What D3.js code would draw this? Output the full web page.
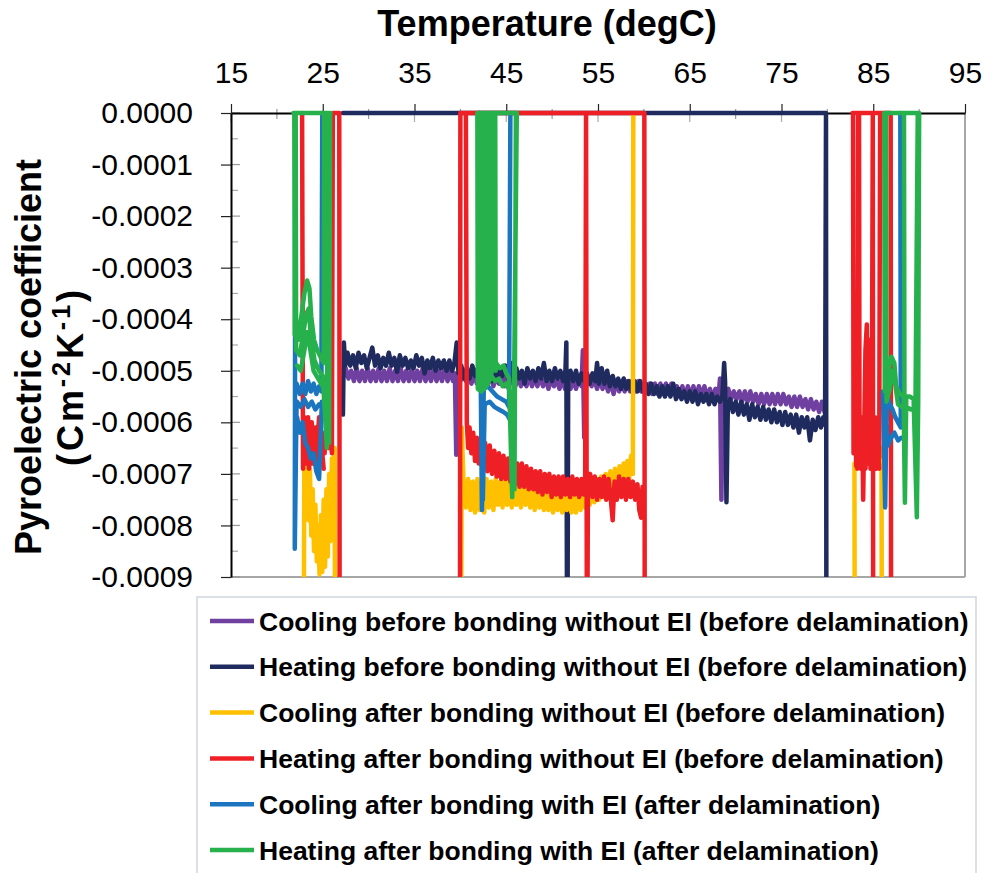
<!DOCTYPE html>
<html><head><meta charset="utf-8">
<script src="https://cdn.jsdelivr.net/npm/d3@7"></script>
<style>
body{margin:0;background:#fff;}
svg{display:block;font-family:"Liberation Sans",Arial,Helvetica,sans-serif;}
</style>
</head><body>
<svg id="chart" width="985" height="873"></svg>
<script>
// ---------- DATA ----------
// values are in units of 1e-4 C m^-2 K^-1 ; null = break in the trace
const UNIT = 1e-4;
const xTickValues = [15, 25, 35, 45, 55, 65, 75, 85, 95];
const yTickValues = [0, -0.0001, -0.0002, -0.0003, -0.0004, -0.0005, -0.0006, -0.0007, -0.0008, -0.0009];
const seriesNames = [
  "Cooling before bonding without EI (before delamination)",
  "Heating before bonding without EI (before delamination)",
  "Cooling after bonding without EI (before delamination)",
  "Heating after bonding without EI (before delamination)",
  "Cooling after bonding with EI (after delamination)",
  "Heating after bonding with EI (after delamination)"
];
const seriesColors = ["#7040a0", "#1f2a5e", "#ffc000", "#ee2026", "#1b75bf", "#26b14c"];

// purple
const coolBefore = [
  [79.7,-5.8],[79.4,-5.6],[79.1,-5.8],[78.8,-5.6],[78.5,-5.75],[78.2,-5.55],[77.9,-5.75],[77.6,-5.55],
  [77.3,-5.7],[77.0,-5.5],[76.7,-5.7],[76.4,-5.5],[76.1,-5.7],[75.8,-5.5],[75.5,-5.65],[75.2,-5.45],
  [74.9,-5.65],[74.6,-5.45],[74.3,-5.65],[74.0,-5.45],[73.7,-5.65],[73.4,-5.45],[73.1,-5.65],[72.8,-5.45],
  [72.5,-5.65],[72.2,-5.45],[71.9,-5.6],[71.6,-5.4],[71.3,-5.6],[71.0,-5.4],[70.7,-5.6],[70.4,-5.4],
  [70.1,-5.55],[69.8,-5.4],[69.5,-5.55],[69.2,-5.35],[68.9,-5.55],[68.6,-5.4],[68.45,-7.5],[68.3,-5.15],
  [68.1,-5.55],[67.8,-5.35],[67.5,-5.55],[67.2,-5.35],[66.9,-5.55],[66.6,-5.3],[66.3,-5.5],[66.0,-5.3],
  [65.7,-5.5],[65.4,-5.3],[65.1,-5.5],[64.8,-5.3],[64.5,-5.5],[64.2,-5.3],[63.9,-5.5],[63.6,-5.3],
  [63.3,-5.45],[63.0,-5.25],[62.7,-5.45],[62.4,-5.25],[62.1,-5.45],[61.8,-5.25],[61.5,-5.45],[61.2,-5.25],
  [60.9,-5.45],[60.6,-5.25],[60.3,-5.4],[60.0,-5.25],[59.7,-5.4],[59.4,-5.2],[59.1,-5.4],[58.8,-5.2],
  [58.5,-5.4],[58.2,-5.2],[57.9,-5.4],[57.6,-5.2],[57.3,-5.4],[57.0,-5.2],[56.7,-5.45],[56.4,-5.2],
  [56.1,-5.4],[55.8,-5.2],[55.5,-5.35],[55.2,-5.15],[54.9,-5.35],[54.6,-5.15],[54.3,-5.3],[54.0,-5.15],
  [53.7,-5.3],[53.5,-6.3],[53.35,-4.6],[53.2,-5.3],[52.9,-5.15],[52.6,-5.35],[52.3,-5.15],[52.0,-5.35],
  [51.7,-5.15],[51.4,-5.35],[51.1,-5.15],[50.8,-5.35],[50.5,-5.15],[50.2,-5.3],[49.9,-5.15],[49.6,-5.35],
  [49.3,-5.15],[49.0,-5.3],[48.7,-5.1],[48.4,-5.3],[48.1,-5.15],[47.8,-5.3],[47.5,-5.1],[47.2,-5.3],
  [46.9,-5.1],[46.6,-5.3],[46.3,-5.1],[46.0,-5.3],[45.7,-5.1],[45.4,-5.25],[45.1,-5.1],[44.8,-5.3],
  [44.5,-5.1],[44.2,-5.25],[43.9,-5.1],[43.6,-5.3],[43.3,-5.1],[43.0,-5.25],[42.7,-5.05],[42.4,-5.25],
  [42.1,-5.05],[41.8,-5.25],[41.5,-5.05],[41.2,-5.25],[40.9,-5.05],[40.6,-5.2],[40.3,-5.05],[40.0,-5.2],
  [39.75,-5.05],[39.55,-6.63],[39.4,-5.05],[39.2,-5.2],[38.9,-5.0],[38.6,-5.2],[38.3,-4.95],[38.0,-5.2],
  [37.7,-5.0],[37.4,-5.2],[37.1,-4.95],[36.8,-5.2],[36.5,-5.0],[36.2,-5.2],[35.9,-4.95],[35.6,-5.2],
  [35.3,-5.0],[35.0,-5.2],[34.7,-4.95],[34.4,-5.2],[34.1,-5.0],[33.8,-5.2],[33.5,-4.95],[33.2,-5.2],
  [32.9,-5.0],[32.6,-5.2],[32.3,-4.95],[32.0,-5.2],[31.7,-5.0],[31.4,-5.2],[31.1,-4.95],[30.8,-5.2],
  [30.5,-5.0],[30.2,-5.2],[29.9,-4.95],[29.6,-5.2],[29.3,-5.0],[29.0,-5.2],[28.7,-4.95],[28.4,-5.2],
  [28.1,-5.0],[27.8,-5.15],[27.5,-4.95],[27.3,-5.1]
];

// navy
const heatBefore = [
  [27.2,0],[79.85,0], null,
  [27.2,-5.85],[27.3,-4.45],[27.45,-4.9],[27.7,-4.65],[28.0,-4.9],[28.3,-4.7],[28.6,-4.95],[28.9,-4.65],
  [29.2,-4.85],[29.5,-4.7],[29.8,-4.95],[30.1,-4.75],[30.4,-4.55],[30.7,-4.9],[31.0,-4.7],[31.3,-4.95],
  [31.6,-4.75],[31.9,-4.9],[32.2,-4.65],[32.5,-4.9],[32.8,-4.75],[33.1,-5.02],[33.4,-4.7],[33.7,-4.9],
  [34.0,-4.75],[34.3,-4.95],[34.6,-4.8],[34.9,-4.95],[35.2,-4.7],[35.5,-4.9],[35.8,-4.75],[36.1,-5.05],
  [36.4,-4.8],[36.7,-4.95],[37.0,-4.75],[37.3,-5.0],[37.6,-4.8],[37.9,-4.95],[38.2,-4.8],[38.5,-5.0],
  [38.8,-4.8],[39.1,-5.0],[39.35,-4.85],[39.6,-4.45],[39.8,-5.05],[40.1,-4.9],[40.4,-5.15],[40.7,-4.95],
  [41.0,-5.15],[41.3,-4.9],[41.6,-5.1],[41.9,-4.95],[42.2,-5.15],[42.5,-4.9],[42.8,-5.1],[43.1,-4.95],
  [43.4,-5.2],[43.7,-4.9],[44.0,-5.15],[44.3,-4.95],[44.6,-5.1],[44.9,-4.9],[45.2,-5.15],[45.5,-4.85],
  [45.8,-5.2],[46.1,-4.95],[46.4,-5.15],[46.7,-5.0],[47.0,-5.25],[47.3,-4.95],[47.6,-5.15],[47.9,-5.0],
  [48.2,-5.2],[48.5,-4.95],[48.8,-5.15],[49.1,-4.85],[49.4,-5.2],[49.7,-5.0],[50.0,-5.2],[50.3,-4.95],
  [50.6,-5.15],[50.9,-5.0],[51.2,-5.2],[51.45,-5.0],[51.55,-4.45],[51.65,-12],[51.75,-5.15],[52.0,-5.0],
  [52.3,-5.2],[52.6,-5.0],[52.9,-5.25],[53.2,-5.05],[53.5,-5.2],[53.8,-5.05],[54.1,-5.25],[54.4,-5.05],
  [54.7,-5.2],[54.9,-4.85],[55.1,-5.25],[55.4,-4.95],[55.7,-5.25],[56.0,-5.0],[56.3,-5.3],[56.6,-5.1],
  [56.9,-5.3],[57.2,-5.15],[57.5,-5.35],[57.8,-5.15],[58.1,-5.35],[58.4,-5.2],[58.7,-5.4],[59.0,-5.2],
  [59.3,-5.4],[59.6,-5.2],[59.9,-5.4],[60.2,-5.25],[60.5,-5.45],[60.8,-5.25],[61.1,-5.45],[61.4,-5.3],
  [61.7,-5.5],[62.0,-5.3],[62.3,-5.5],[62.6,-5.3],[62.9,-5.5],[63.2,-5.25],[63.5,-5.55],[63.8,-5.35],
  [64.1,-5.55],[64.4,-5.4],[64.7,-5.6],[65.0,-5.4],[65.3,-5.6],[65.6,-5.4],[65.9,-5.65],[66.2,-5.45],
  [66.5,-5.6],[66.8,-5.45],[67.1,-5.65],[67.4,-5.45],[67.7,-5.65],[68.0,-5.5],[68.3,-5.6],[68.55,-5.5],
  [68.75,-4.85],[68.85,-5.2],[69.0,-7.55],[69.15,-5.7],[69.4,-5.55],[69.7,-5.8],[70.0,-5.6],[70.3,-5.85],
  [70.6,-5.6],[70.9,-5.85],[71.2,-5.65],[71.5,-5.95],[71.8,-5.65],[72.1,-5.9],[72.4,-5.7],[72.7,-5.95],
  [73.0,-5.7],[73.3,-5.95],[73.6,-5.75],[73.9,-6.0],[74.2,-5.75],[74.5,-6.0],[74.8,-5.8],[75.1,-6.05],
  [75.4,-5.8],[75.7,-6.05],[76.0,-5.85],[76.3,-6.1],[76.6,-5.85],[76.9,-6.2],[77.2,-5.9],[77.5,-6.1],
  [77.8,-5.9],[78.1,-6.35],[78.4,-5.95],[78.7,-6.15],[79.0,-5.9],[79.3,-6.1],[79.55,-5.9],[79.75,-6.05],
  [79.85,0],[79.9,-12]
];

// yellow
const coolAfterNoEI = [
  [85.9,-6.5],[85.95,-12], null,
  [82.95,-6.8],[83.0,-12], null,
  [58.85,0],[58.8,-7.0],[58.6,-6.65],[58.4,-7.1],[58.2,-6.75],[58.0,-7.2],[57.8,-6.8],[57.6,-7.25],
  [57.35,-6.85],[57.1,-7.3],[56.85,-6.9],[56.6,-7.35],[56.35,-6.95],[56.1,-7.4],[55.85,-7.0],[55.6,-7.45],
  [55.35,-7.05],[55.1,-7.5],[54.85,-7.1],[54.6,-7.55],[54.35,-7.15],[54.1,-7.6],[53.85,-7.2],[53.6,-7.65],
  [53.35,-7.25],[53.1,-7.7],[52.85,-7.25],[52.6,-7.75],[52.35,-7.3],[52.1,-7.75],[51.85,-7.3],[51.6,-7.7],
  [51.35,-7.3],[51.1,-7.75],[50.85,-7.3],[50.6,-7.7],[50.35,-7.25],[50.1,-7.75],[49.85,-7.3],[49.6,-7.7],
  [49.35,-7.2],[49.1,-7.7],[48.85,-7.25],[48.6,-7.65],[48.35,-7.2],[48.1,-7.7],[47.85,-7.2],[47.6,-7.65],
  [47.35,-7.15],[47.1,-7.6],[46.85,-7.15],[46.6,-7.65],[46.35,-7.1],[46.1,-7.6],[45.85,-7.15],[45.6,-7.65],
  [45.35,-7.1],[45.1,-7.6],[44.85,-7.1],[44.6,-7.65],[44.35,-7.15],[44.1,-7.6],[43.85,-7.1],[43.6,-7.7],
  [43.35,-7.15],[43.1,-7.65],[42.85,-7.1],[42.6,-7.75],[42.35,-7.15],[42.1,-7.7],[41.85,-7.1],[41.6,-7.75],
  [41.35,-7.15],[41.1,-7.7],[40.85,-7.1],[40.6,-7.65],[40.35,-7.2],[40.15,-6.1],[40.05,-12], null,
  [26.35,-12],[26.3,-6.5],[26.15,-7.8],[26.0,-6.7],[25.85,-8.3],[25.7,-7.0],[25.55,-8.6],[25.4,-7.3],
  [25.25,-8.8],[25.1,-7.5],[24.95,-8.9],[24.8,-7.8],[24.65,-8.95],[24.5,-8.0],[24.35,-8.7],[24.2,-7.6],
  [24.05,-8.5],[23.9,-7.3],[23.75,-8.2],[23.6,-6.9],[23.45,-7.9],[23.3,-6.6],[23.15,-7.4],[23.0,-6.3],
  [22.9,-12]
];

// red
const heatAfterNoEI = [
  [22.75,0],[22.85,-6.9],[23.0,-5.9],[23.2,-6.4],[23.4,-5.9],[23.6,-6.5],[23.8,-6.0],[24.0,-6.6],
  [24.2,-6.1],[24.4,-6.5],[24.6,-5.9],[24.8,-6.4],[25.0,-6.2],[25.2,-6.6],[25.4,-6.1],[25.6,-6.5],
  [25.8,-6.2],[26.0,-6.6],[26.1,0],[26.8,0],[26.85,-12], null,
  [22.95,-6.2],[23.1,-6.8],[23.3,-6.3],[23.5,-6.9],[23.7,-6.4],[23.9,-6.8],[24.1,-6.3],[24.3,-6.9],
  [24.5,-6.4],[24.7,-6.8],[24.9,-6.5],[25.1,-6.9], null,
  [39.95,-12],[40.0,0],[60.05,0],[60.1,-12], null,
  [40.6,0],[40.7,-6.0],[40.85,-6.5],[41.0,-6.1],[41.2,-6.6],[41.4,-6.2],[41.6,-6.75],[41.8,-6.3],
  [42.0,-6.8],[42.2,-6.35],[42.45,-6.9],[42.7,-6.4],[42.95,-6.95],[43.2,-6.45],[43.45,-7.0],[43.7,-6.55],
  [43.95,-7.05],[44.2,-6.6],[44.45,-7.1],[44.7,-6.65],[44.95,-7.1],[45.2,-6.7],[45.45,-7.15],[45.7,-6.75],
  [45.95,-7.2],[46.2,-6.8],[46.45,-7.25],[46.7,-6.8],[46.95,-7.25],[47.2,-6.85],[47.45,-7.3],[47.7,-6.9],
  [47.95,-7.3],[48.2,-6.95],[48.45,-7.35],[48.7,-6.95],[48.95,-7.4],[49.2,-7.0],[49.45,-7.35],[49.7,-7.0],
  [49.95,-7.45],[50.2,-7.05],[50.45,-7.4],[50.7,-7.05],[50.95,-7.45],[51.2,-7.05],[51.45,-7.4],[51.7,-7.1],
  [51.95,-7.45],[52.2,-7.05],[52.45,-7.4],[52.7,-7.1],[52.95,-7.45],[53.2,-7.1],[53.45,-7.4],[53.6,-7.2],
  [53.7,0],[53.8,-12],[53.9,-7.3],[54.15,-7.0],[54.4,-7.45],[54.65,-7.05],[54.9,-7.5],[55.15,-7.1],
  [55.4,-7.45],[55.65,-7.05],[55.9,-7.5],[56.15,-7.1],[56.4,-7.5],[56.6,-7.9],[56.8,-7.15],[57.05,-7.5],
  [57.3,-7.05],[57.55,-7.45],[57.8,-7.1],[58.05,-7.5],[58.3,-7.1],[58.55,-7.45],[58.8,-7.15],[59.05,-7.5],
  [59.3,-7.2],[59.5,-7.7],[59.7,-7.85],[59.85,-7.25],[60.0,-7.5], null,
  [82.75,0],[86.9,0],[86.95,-12], null,
  [82.8,0],[82.85,-6.6],[83.0,-5.9],[83.15,-6.85],[83.3,-5.6],[83.35,0], null,
  [83.45,0],[83.5,-5.8],[83.65,-6.9],[83.8,-6.1],[83.9,-7.5],[84.0,-6.3],[84.15,-4.6],[84.3,-4.1],
  [84.4,-6.7],[84.55,-4.4],[84.7,-6.9],[84.85,-5.8],[84.95,0],[85.0,-12], null,
  [85.05,-6.9],[85.2,-5.9],[85.35,-6.8],[85.5,-6.0],[85.65,-6.7],[85.75,0], null,
  [83.1,-6.4],[83.25,-6.9],[83.4,-6.2],[83.55,-6.8],[83.7,-5.9],[83.85,-6.7],[84.0,-6.0],[84.15,-6.9],
  [84.3,-6.2],[84.45,-6.8],[84.6,-6.0],[84.75,-6.6],[84.9,-6.1],[85.05,-6.5],[85.2,-6.3],[85.35,-6.9],
  [85.5,-6.4],[85.65,-6.9]
];

// blue
const coolAfterEI = [
  [22.0,-2.3],[21.95,-8.45],[22.15,-5.6], null,
  [24.95,0],[24.85,-5.4],[24.6,-5.3],[24.3,-5.45],[24.0,-5.25],[23.7,-5.4],[23.4,-5.2],[23.1,-5.45],
  [22.8,-5.25],[22.5,-5.45],[22.15,-5.25], null,
  [24.9,-5.7],[24.6,-5.65],[24.2,-5.75],[23.8,-5.6],[23.4,-5.7],[23.0,-5.55],[22.6,-5.7],[22.2,-5.6], null,
  [24.9,-5.6],[24.75,-6.4],[24.6,-7.1],[24.3,-6.95],[24.0,-6.6],[23.7,-6.7],[23.4,-6.5],[23.1,-6.4],
  [22.8,-6.0],[22.5,-6.2],[22.2,-5.9], null,
  [45.45,0],[45.3,-5.7],[45.0,-5.6],[44.5,-5.55],[44.0,-5.5],[43.5,-5.4],[43.0,-5.3],[42.55,-5.35],
  [42.35,-7.7],[41.95,0], null,
  [45.4,-5.95],[45.1,-5.85],[44.7,-5.8],[44.2,-5.75],[43.7,-5.7],[43.2,-5.6],[42.65,-5.65],[42.45,-7.5],
  [42.1,0], null,
  [87.95,0],[88.0,-6.1],[87.7,-6.0],[87.4,-5.9],[87.1,-5.75],[86.8,-5.65],[86.55,-5.5],[86.4,-6.3],
  [86.3,-7.65],[86.15,-6.2],[86.05,-5.4], null,
  [88.05,-6.3],[87.7,-6.35],[87.3,-6.2],[86.95,-6.3],[86.6,-6.45],[86.45,-6.0]
];

// green
const heatAfterEI = [
  [21.8,0],[25.85,0], null,
  [21.9,0],[21.95,-4.3],[22.3,-4.4],[22.7,-3.9],[23.0,-3.5],[23.3,-3.25],[23.55,-3.4],[23.75,-3.95],
  [24.05,-4.4],[24.4,-4.6],[24.8,-4.75],[25.1,-4.85],[25.15,0], null,
  [22.05,0],[22.1,-4.6],[22.5,-4.7],[22.9,-4.25],[23.2,-3.9],[23.45,-3.8],[23.7,-4.3],[24.1,-4.8],
  [24.6,-5.0],[25.0,-5.1],[25.45,-6.5],[25.55,0], null,
  [22.2,-4.9],[22.6,-5.0],[23.0,-4.6],[23.35,-4.25],[23.65,-4.6],[24.0,-5.0],[24.5,-5.15],[25.0,-5.3],
  [25.3,-5.45],[25.7,-6.4],[25.8,0], null,
  [41.85,0],[41.9,-5.35],[42.3,-5.4],[42.7,-5.2],[43.1,-5.05],[43.5,-4.95],[43.9,-4.85],[44.3,-4.95],
  [44.7,-4.9],[45.0,-5.05],[45.3,-5.15],[45.65,-7.45],[45.85,-5.3],[46.15,0],[41.85,0], null,
  [42.15,0],[42.2,-5.25],[42.6,-5.35],[43.0,-5.25],[43.4,-5.1],[43.8,-5.2],[44.2,-5.15],[44.6,-5.3],
  [45.0,-5.25],[45.4,-5.4],[45.9,-7.3],[46.05,0], null,
  [42.4,0],[42.45,-5.3], null,
  [42.6,0],[42.65,-5.15], null,
  [42.85,0],[42.9,-5.2], null,
  [43.1,0],[43.15,-5.0], null,
  [43.35,0],[43.4,-5.05], null,
  [43.55,0],[43.6,-4.95], null,
  [43.8,0],[43.85,-5.0], null,
  [86.2,0],[86.25,-5.4],[86.55,-5.3],[86.75,-4.9],[87.0,-4.73],[87.3,-4.85],[87.5,-5.3],[87.9,-5.45],
  [88.3,-5.5],[88.45,-7.56],[88.6,-5.5],[89.0,-5.5],[89.4,-5.55],[89.75,-7.84],[89.9,-5.6],[90.0,0],
  [86.2,0], null,
  [86.4,0],[86.45,-5.6],[86.8,-5.35],[87.05,-5.0],[87.35,-5.2],[87.7,-5.65],[88.1,-5.7],[88.6,-5.7],
  [89.1,-5.75],[89.6,-5.7],[89.85,0], null,
  [88.35,0],[88.4,-5.6]
];

const allSeries = [coolBefore, heatBefore, coolAfterNoEI, heatAfterNoEI, coolAfterEI, heatAfterEI];

// ---------- LAYOUT ----------
const svg = d3.select("#chart");
const P = {left: 231, right: 965, top: 113, bottom: 577};
const x = d3.scaleLinear().domain([15, 95]).range([P.left, P.right]);
const y = d3.scaleLinear().domain([-0.0009, 0]).range([P.bottom, P.top]);

svg.append("rect").attr("width", 985).attr("height", 873).attr("fill", "#fff");

// title
svg.append("text").attr("x", 547).attr("y", 36).attr("text-anchor", "middle")
  .attr("font-size", 36).attr("font-weight", "bold").text("Temperature (degC)");

// y title
const yt = svg.append("g");
yt.append("text").attr("transform", "translate(41,357) rotate(-90)").attr("text-anchor", "middle")
  .attr("font-size", 36).attr("font-weight", "bold").text("Pyroelectric coefficient");
const yt2 = yt.append("text").attr("transform", "translate(83,378) rotate(-90)").attr("text-anchor", "middle")
  .attr("font-size", 36).attr("font-weight", "bold")
  .attr("textLength", 176).attr("lengthAdjust", "spacing");
yt2.append("tspan").text("(Cm");
yt2.append("tspan").attr("font-size", 25).attr("dy", -13).text("-2");
yt2.append("tspan").attr("dy", 13).text("K");
yt2.append("tspan").attr("font-size", 25).attr("dy", -13).text("-1");
yt2.append("tspan").attr("dy", 13).text(")");

// plot border right / bottom (gray)
svg.append("line").attr("x1", P.right).attr("x2", P.right).attr("y1", P.top).attr("y2", P.bottom)
  .attr("stroke", "#a6a6a6").attr("stroke-width", 2);
svg.append("line").attr("x1", P.left).attr("x2", P.right).attr("y1", P.bottom).attr("y2", P.bottom)
  .attr("stroke", "#a6a6a6").attr("stroke-width", 2);

// minor ticks and inner parts of major ticks (gray)
const xMinor = d3.range(20, 95, 10);
svg.append("g").selectAll("line").data(xMinor).join("line")
  .attr("x1", d => x(d)).attr("x2", d => x(d)).attr("y1", P.top - 4).attr("y2", P.top + 6)
  .attr("stroke", "#999").attr("stroke-width", 1.2);
svg.append("g").selectAll("line").data(xTickValues).join("line")
  .attr("x1", d => x(d)).attr("x2", d => x(d)).attr("y1", P.top).attr("y2", P.top + 9)
  .attr("stroke", "#aaa").attr("stroke-width", 1.2);
const yMinor = d3.range(-0.00005, -0.0009, -0.0001);
svg.append("g").selectAll("line").data(yMinor).join("line")
  .attr("x1", P.left).attr("x2", P.left + 7).attr("y1", d => y(d)).attr("y2", d => y(d))
  .attr("stroke", "#aaa").attr("stroke-width", 1.2);
svg.append("g").selectAll("line").data(yTickValues).join("line")
  .attr("x1", P.left).attr("x2", P.left + 9).attr("y1", d => y(d)).attr("y2", d => y(d))
  .attr("stroke", "#999").attr("stroke-width", 1.2);

// axes
const xAxis = svg.append("g").attr("transform", `translate(0,${P.top})`)
  .call(d3.axisTop(x).tickValues(xTickValues).tickFormat(d3.format("d")).tickSizeInner(9).tickSizeOuter(0).tickPadding(21));
const yAxis = svg.append("g").attr("transform", `translate(${P.left},0)`)
  .call(d3.axisLeft(y).tickValues(yTickValues).tickFormat(d => d.toFixed(4)).tickSizeInner(10).tickSizeOuter(0).tickPadding(28));
[xAxis, yAxis].forEach(a => {
  a.select(".domain").attr("stroke", "#000").attr("stroke-width", 2);
  a.selectAll(".tick line").attr("stroke", "#222").attr("stroke-width", 1.2);
  a.selectAll(".tick text").attr("fill", "#000").attr("font-size", 30)
    .attr("font-family", '"Liberation Sans", Arial, sans-serif');
});

// clip & series
svg.append("clipPath").attr("id", "plotclip").append("rect")
  .attr("x", P.left).attr("y", P.top - 6).attr("width", P.right - P.left).attr("height", P.bottom - P.top + 6);
const line = d3.line().defined(d => d !== null).x(d => x(d[0])).y(d => y(d[1] * UNIT));
const plot = svg.append("g").attr("clip-path", "url(#plotclip)");
allSeries.forEach((s, i) => {
  plot.append("path").attr("d", line(s)).attr("fill", "none").attr("stroke", seriesColors[i])
    .attr("stroke-width", 4.5).attr("stroke-linejoin", "round").attr("stroke-linecap", "round");
});

// legend
const lg = svg.append("g");
lg.append("rect").attr("x", 197).attr("y", 597).attr("width", 779).attr("height", 300)
  .attr("fill", "#fff").attr("stroke", "#cfd6de").attr("stroke-width", 1.5);
seriesNames.forEach((n, i) => {
  const yy = 621 + i * 45.8;
  lg.append("line").attr("x1", 210).attr("x2", 254).attr("y1", yy).attr("y2", yy)
    .attr("stroke", seriesColors[i]).attr("stroke-width", 4.5);
  lg.append("text").attr("x", 259).attr("y", yy + 9.5).attr("font-size", 26.5).attr("font-weight", "bold")
    .text(n);
});
</script>
</body></html>
